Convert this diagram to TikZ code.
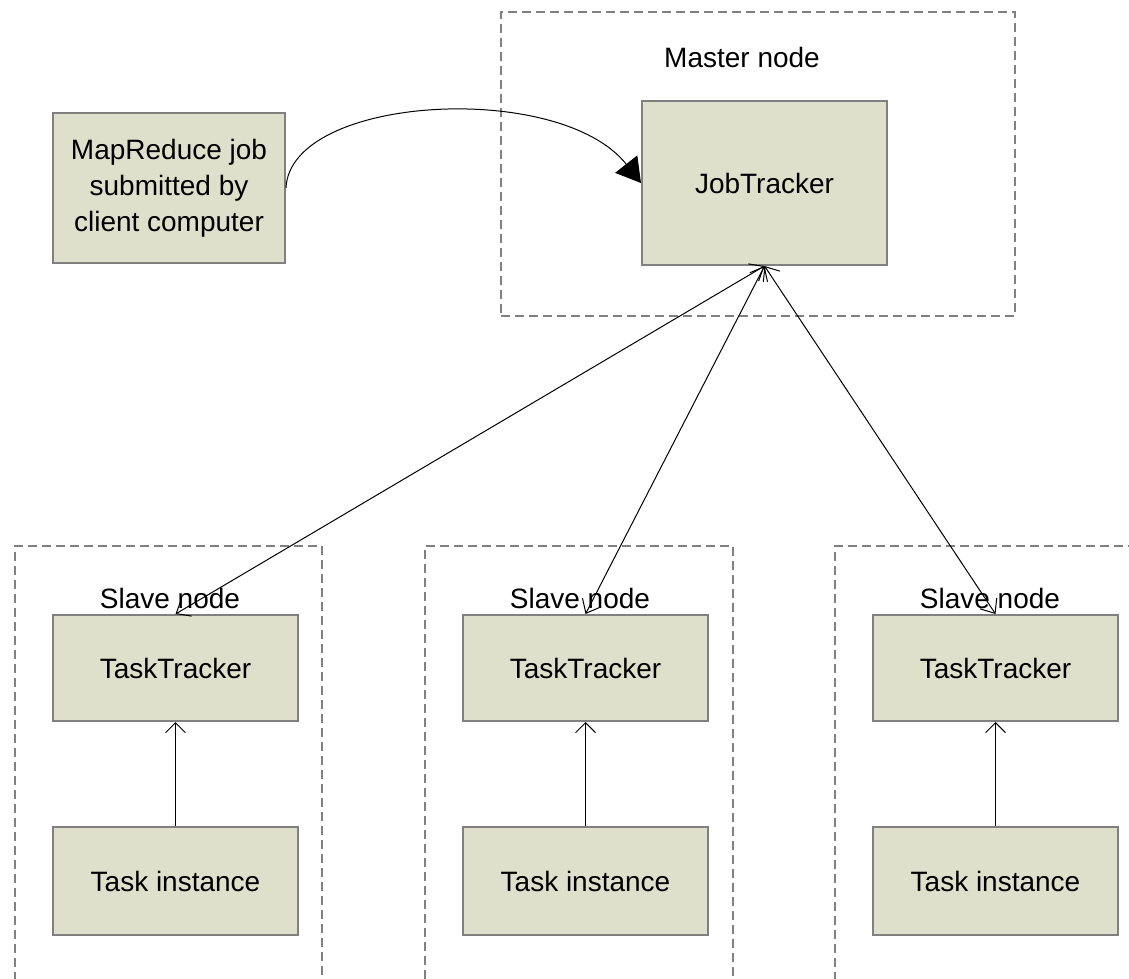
\documentclass[tikz,border=0pt]{standalone}
\usepackage{fontspec}
\setmainfont{Liberation Sans}
\usetikzlibrary{arrows.meta}
\definecolor{boxfill}{RGB}{222,224,204}
\definecolor{boxline}{RGB}{128,128,128}
\begin{document}
\begin{tikzpicture}[
          x=1pt, y=-1pt,
          every node/.style={font=\fontsize{28}{36}\selectfont},
          box/.style={draw=boxline, line width=2pt, fill=boxfill, align=center,
                      minimum width=245pt, inner sep=0pt},
          group/.style={draw=boxline, line width=1.3pt,
                        dash pattern=on 9pt off 5pt, inner sep=0pt},
          link/.style={line width=1pt,
                       {Straight Barb[length=12pt,width=20pt]}-{Straight Barb[length=12pt,width=20pt]}},
          up/.style={line width=1pt, -{Straight Barb[length=10pt,width=20pt]}},
        ]
          \useasboundingbox (0,0) rectangle (1129,979);
          \clip (0,0) rectangle (1129,979);
          % groups
          \node[group, minimum width=514pt, minimum height=304pt] (master) at (758,164) {};
          \node (mlabel) at (742,57) {Master node};
          \node[group, minimum width=307pt, minimum height=500pt] (slave1) at (168.5,796) {};
          \node[group, minimum width=308pt, minimum height=500pt] (slave2) at (579,796) {};
          \node[group, minimum width=307pt, minimum height=500pt] (slave3) at (988.5,796) {};
          \node (slabel1) at (170,598) {Slave node};
          \node (slabel2) at (580,598) {Slave node};
          \node (slabel3) at (990,598) {Slave node};
          % boxes
          \node[box, minimum width=232pt, minimum height=150pt] (client) at (169,188)
            {MapReduce job\\submitted by\\client computer};
          \node[box, minimum height=164pt] (jt) at (764.5,183) {JobTracker};
          \node[box, minimum height=106pt] (tt1) at (175.5,668) {TaskTracker};
          \node[box, minimum height=106pt] (tt2) at (585.5,668) {TaskTracker};
          \node[box, minimum height=106pt] (tt3) at (995.5,668) {TaskTracker};
          \node[box, minimum height=108pt] (ti1) at (175.5,881) {Task instance};
          \node[box, minimum height=108pt] (ti2) at (585.5,881) {Task instance};
          \node[box, minimum height=108pt] (ti3) at (995.5,881) {Task instance};
          % connectors
          \draw[line width=1pt, -{Triangle[length=24pt,width=28pt]}]
            (client.east) .. controls (290,95) and (560,80) .. (jt.west);
          \draw[link] (jt.south) -- (tt1.north);
          \draw[link] (jt.south) -- (tt2.north);
          \draw[link] (jt.south) -- (tt3.north);
          \draw[up] (ti1.north) -- (tt1.south);
          \draw[up] (ti2.north) -- (tt2.south);
          \draw[up] (ti3.north) -- (tt3.south);
        \end{tikzpicture}
\end{document}
